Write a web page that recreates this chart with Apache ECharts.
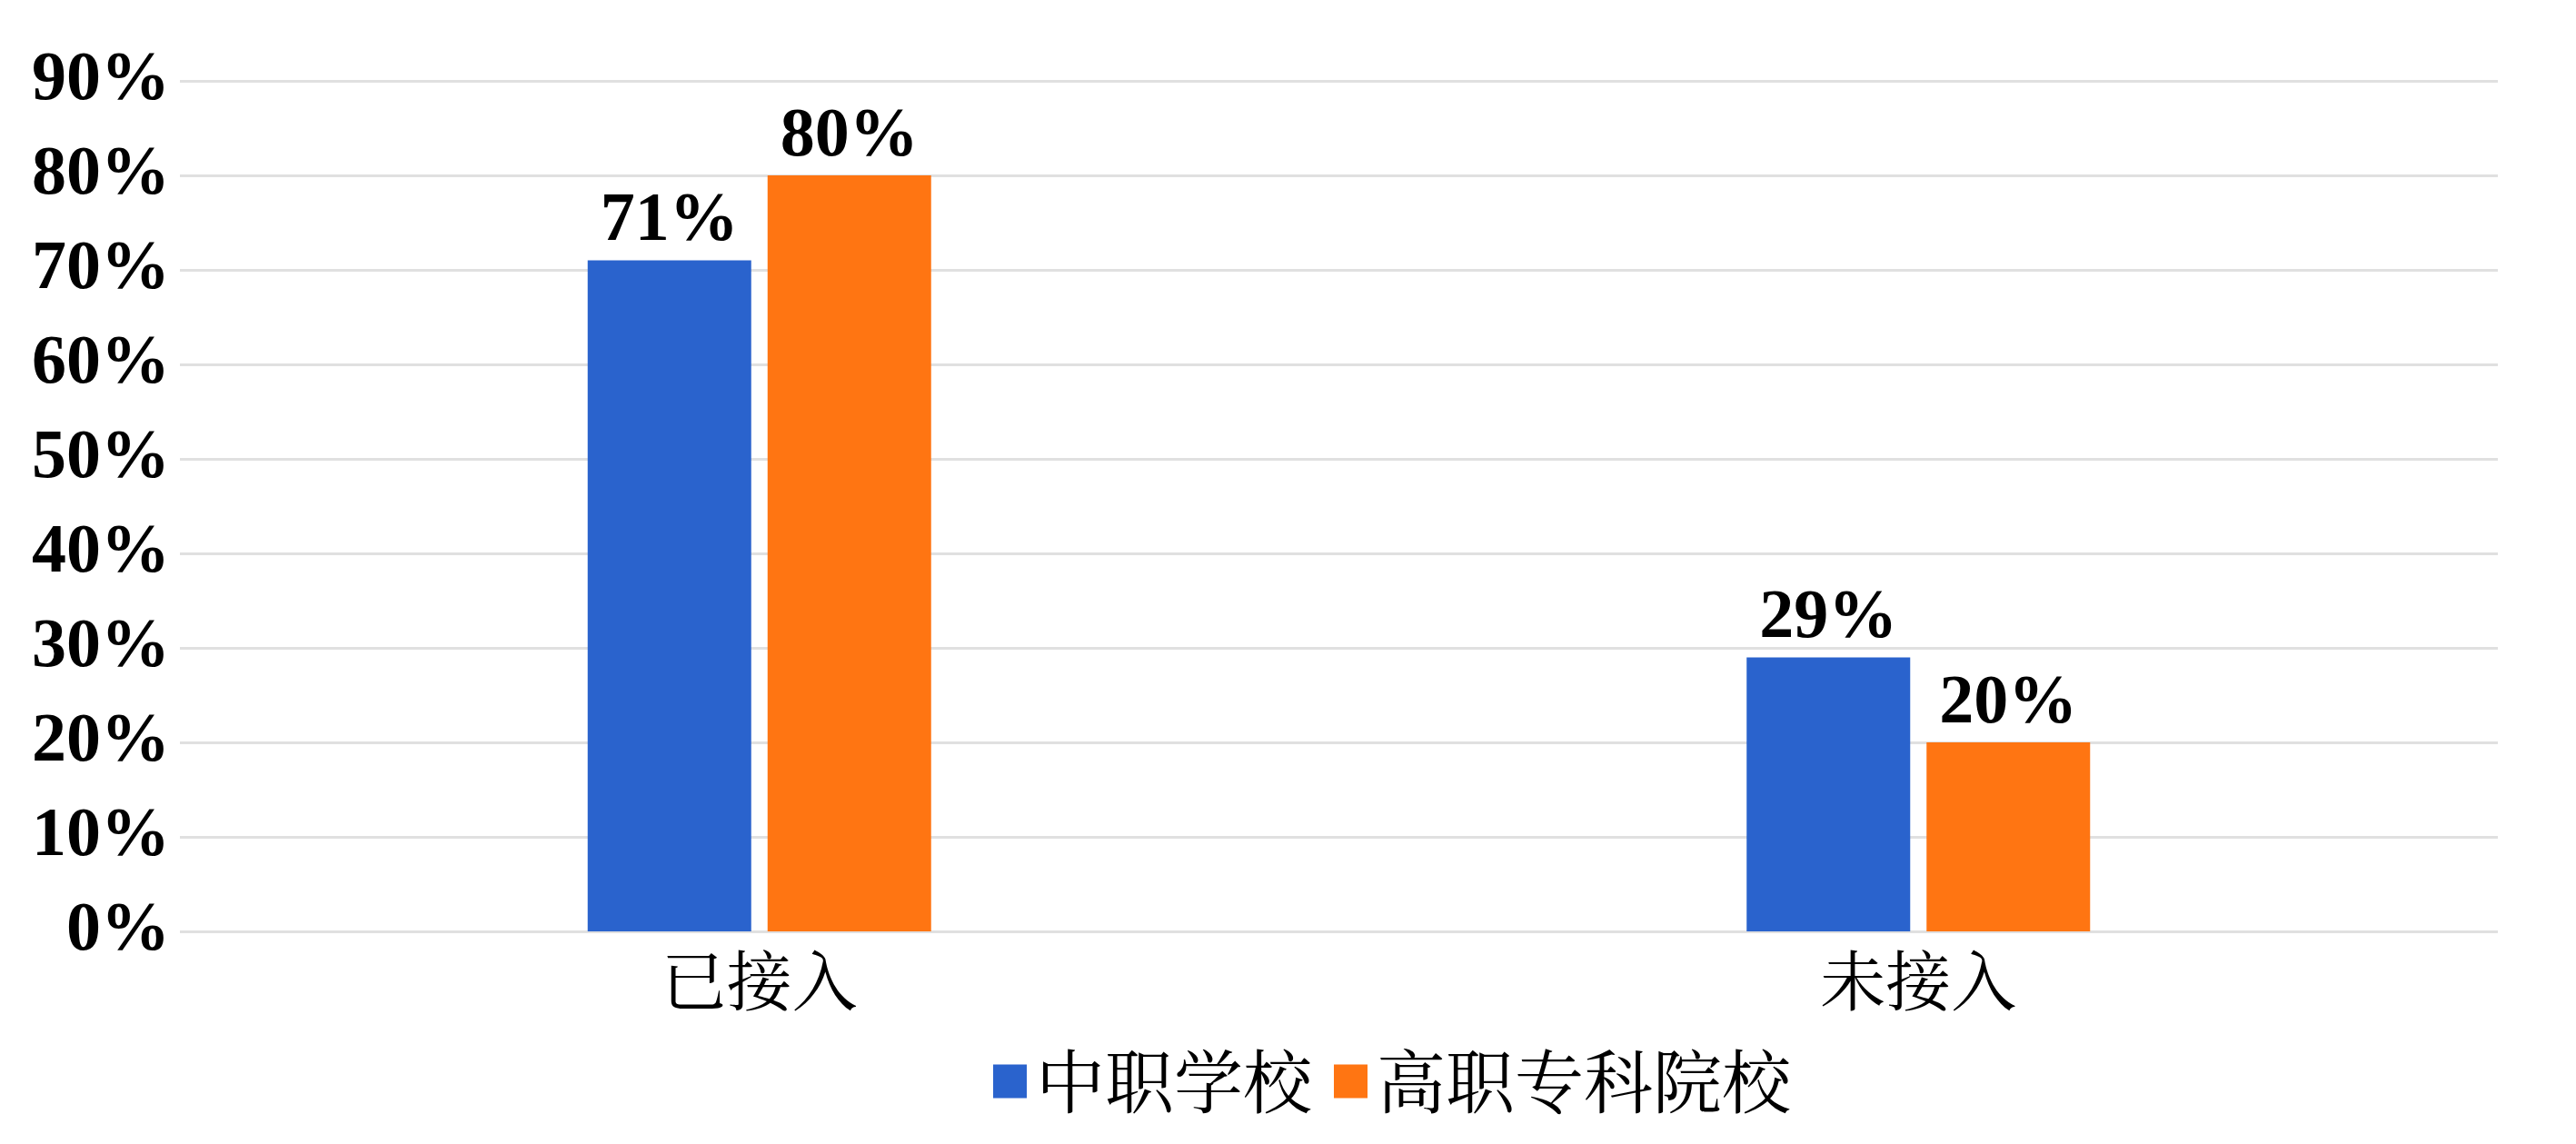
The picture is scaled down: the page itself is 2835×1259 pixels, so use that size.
<!DOCTYPE html>
<html>
<head>
<meta charset="utf-8">
<script src="https://cdn.jsdelivr.net/npm/echarts@6/dist/echarts.min.js"></script>
<style>
html,body{margin:0;padding:0;background:#fff;}
#chart{width:2835px;height:1259px;}
</style>
</head>
<body>
<div id="chart"></div>
<script>
const categories = ['已接入', '未接入'];
const seriesNames = ['中职学校', '高职专科院校'];
const zhongzhi = [71, 29];
const gaozhi = [80, 20];
const yTicks = [0, 10, 20, 30, 40, 50, 60, 70, 80, 90];

const chart = echarts.init(document.getElementById('chart'));
const serif = '"Times New Roman", "Liberation Serif", serif';
const cjk = '"Noto Serif CJK SC", "Noto Sans CJK SC", sans-serif';
const labelStyle = {
  show: true,
  position: 'top',
  distance: 4,
  formatter: p => p.value + '%',
  fontFamily: serif,
  fontWeight: 'bold',
  fontSize: 76,
  color: '#000'
};
chart.setOption({
  animation: false,
  backgroundColor: '#fff',
  grid: { left: 198, right: 86, top: 89, bottom: 234 },
  legend: {
    data: seriesNames,
    left: 1088,
    top: 1147,
    itemWidth: 37,
    itemHeight: 37,
    itemGap: 24,
    icon: 'rect',
    textStyle: { fontFamily: cjk, fontSize: 76, color: '#000', padding: [0, 0, 0, 5] }
  },
  xAxis: {
    type: 'category',
    data: categories,
    axisLine: { show: false },
    axisTick: { show: false },
    axisLabel: { fontFamily: cjk, fontSize: 72, color: '#000', margin: 18 }
  },
  yAxis: {
    type: 'value',
    min: yTicks[0],
    max: yTicks[yTicks.length - 1],
    interval: 10,
    axisLine: { show: false },
    axisTick: { show: false },
    splitLine: { lineStyle: { color: '#e0e0e0', width: 3 } },
    axisLabel: {
      formatter: v => v + '%',
      fontFamily: serif,
      fontWeight: 'bold',
      fontSize: 76,
      color: '#000',
      margin: 11
    }
  },
  series: [
    {
      name: seriesNames[0],
      type: 'bar',
      data: zhongzhi,
      barWidth: 180,
      barGap: '10%',
      itemStyle: { color: '#2a63cd' },
      label: labelStyle
    },
    {
      name: seriesNames[1],
      type: 'bar',
      data: gaozhi,
      barWidth: 180,
      barGap: '10%',
      itemStyle: { color: '#ff7512' },
      label: labelStyle
    }
  ]
});
</script>
</body>
</html>
